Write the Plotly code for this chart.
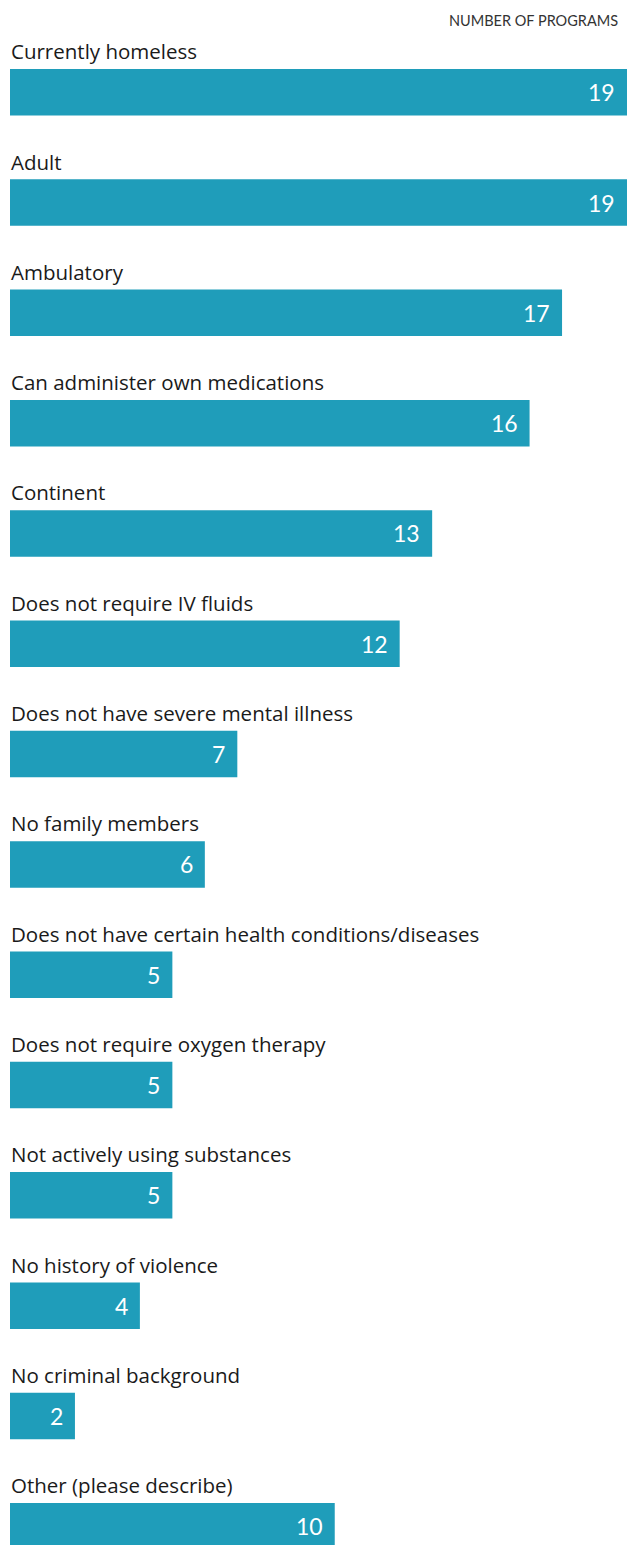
import plotly.graph_objects as go

# Eligibility criteria and number of programs using each
criteria = [
    "Currently homeless",
    "Adult",
    "Ambulatory",
    "Can administer own medications",
    "Continent",
    "Does not require IV fluids",
    "Does not have severe mental illness",
    "No family members",
    "Does not have certain health conditions/diseases",
    "Does not require oxygen therapy",
    "Not actively using substances",
    "No history of violence",
    "No criminal background",
    "Other (please describe)",
]
programs = [19, 19, 17, 16, 13, 12, 7, 6, 5, 5, 5, 4, 2, 10]
axis_title = "NUMBER OF PROGRAMS"

W, H = 627, 1545
BAR_COLOR = "#1f9dba"
TEXT_COLOR = "#1a1a1a"
LABEL_FONT = "'Open Sans', Lato, sans-serif"
FONT = "Lato, 'Open Sans', sans-serif"

slot = 110.31          # px per category row
first_center = 92.25   # px from top for first bar center
r0 = -first_center / slot
r1 = r0 + H / slot

fig = go.Figure(
    go.Bar(
        x=programs,
        y=criteria,
        orientation="h",
        marker=dict(color=BAR_COLOR, line=dict(width=0)),
        width=0.4216,
        hoverinfo="skip",
    )
)

annotations = []
for name, val in zip(criteria, programs):
    # category label above the bar
    annotations.append(dict(
        x=0, y=name, xref="x", yref="y",
        text=name, showarrow=False,
        xanchor="left", yanchor="middle",
        xshift=-1, yshift=41,
        font=dict(family=LABEL_FONT, size=20.5, color=TEXT_COLOR),
    ))
    # value label inside the end of the bar
    annotations.append(dict(
        x=val, y=name, xref="x", yref="y",
        text=str(val), showarrow=False,
        xanchor="right", yanchor="middle",
        xshift=-10, yshift=0,
        font=dict(family=FONT, size=23, color="white"),
    ))

# axis caption in the top right corner
annotations.append(dict(
    x=1.0, y=1.0, xref="paper", yref="paper",
    text=axis_title, showarrow=False,
    xanchor="right", yanchor="middle",
    xshift=-7, yshift=-20,
    font=dict(family=FONT, size=14.5, color="#333333"),
))

fig.update_layout(
    width=W,
    height=H,
    margin=dict(l=10, r=0, t=0, b=0),
    paper_bgcolor="white",
    plot_bgcolor="white",
    showlegend=False,
    xaxis=dict(range=[0, 19], visible=False, fixedrange=True),
    yaxis=dict(range=[r1, r0], visible=False, type="category", fixedrange=True),
    annotations=annotations,
)

fig.write_html("out.html", config={"displayModeBar": False})
